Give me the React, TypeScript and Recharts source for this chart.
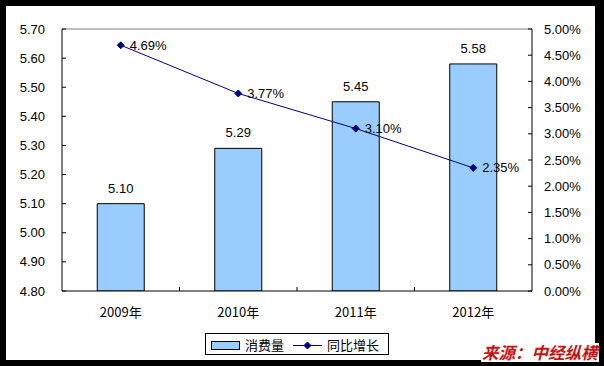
import React from 'react';
import {
  ComposedChart,
  Bar,
  Line,
  XAxis,
  YAxis,
  LabelList,
  ReferenceLine,
} from 'recharts';

// 消费量 (left axis) and 同比增长 (%) per year
const years = ['2009年', '2010年', '2011年', '2012年'];
const consumption = [5.1, 5.29, 5.45, 5.58];
const growth = [4.69, 3.77, 3.1, 2.35];

const leftTicks = [4.8, 4.9, 5.0, 5.1, 5.2, 5.3, 5.4, 5.5, 5.6, 5.7];
const rightTicks = [0, 0.5, 1, 1.5, 2, 2.5, 3, 3.5, 4, 4.5, 5];

const data = years.map((year, i) => ({
  year,
  consumption: consumption[i],
  growth: growth[i],
}));

const NUM_FONT = '"Liberation Sans", Arial, sans-serif';
const CJK_FONT = '"Noto Sans CJK SC", "Noto Sans", sans-serif';
const NAVY = '#000080';
const BAR_FILL = '#99CCFF';

const LeftTick = ({ x, y, payload }: any) => (
  <g>
    <line x1={x} x2={x + 4} y1={y} y2={y} stroke="#000" />
    <text x={x - 17} y={y} dy={4.5} textAnchor="end" fontSize={13} fontFamily={NUM_FONT} fill="#000">
      {Number(payload.value).toFixed(2)}
    </text>
  </g>
);

const RightTick = ({ x, y, payload }: any) => (
  <g>
    <line x1={x - 4} x2={x} y1={y} y2={y} stroke="#000" />
    <text x={x + 12} y={y} dy={4.5} textAnchor="start" fontSize={13} fontFamily={NUM_FONT} fill="#000">
      {Number(payload.value).toFixed(2) + '%'}
    </text>
  </g>
);

// category ticks sit between the bars in the original, so draw them at band edges
const YearTick = ({ x, y, payload, index, width, visibleTicksCount }: any) => {
  const half = payload.offset ?? width / visibleTicksCount / 2;
  return (
    <g>
      {index < years.length - 1 && (
        <line x1={x + half} x2={x + half} y1={y} y2={y - 4} stroke="#000" />
      )}
      <text x={x} y={y + 26} textAnchor="middle" fontSize={13} fontFamily={CJK_FONT} fill="#000">
        {payload.value}
      </text>
    </g>
  );
};

const Diamond = ({ cx, cy }: any) => {
  if (cx == null || cy == null) return null;
  const r = 3.5;
  return (
    <polygon
      points={`${cx},${cy - r} ${cx + r},${cy} ${cx},${cy + r} ${cx - r},${cy}`}
      fill={NAVY}
      stroke={NAVY}
    />
  );
};

const Legend = () => (
  <div
    style={{
      position: 'absolute',
      left: 205,
      top: 333,
      width: 182,
      height: 20,
      border: '1px solid #000',
      background: '#fff',
    }}
  >
    <svg width={182} height={20} style={{ display: 'block' }}>
      <rect x={5.5} y={7.5} width={28} height={8} fill={BAR_FILL} stroke="#000" />
      <text x={39} y={16} fontSize={13} fontFamily={CJK_FONT} fill="#000">消费量</text>
      <line x1={87} x2={116} y1={11.5} y2={11.5} stroke={NAVY} />
      <Diamond cx={101.5} cy={11.5} />
      <text x={121} y={16} fontSize={13} fontFamily={CJK_FONT} fill="#000">同比增长</text>
    </svg>
  </div>
);

export default function App() {
  return (
    <div style={{ position: 'absolute', left: 0, top: 0, width: 604, height: 366, background: '#000' }}>
      <div style={{ position: 'absolute', left: 6, top: 6, width: 589, height: 354, background: '#fff' }} />
      <div style={{ position: 'absolute', left: 0, top: 0 }}>
        <ComposedChart
          width={604}
          height={366}
          data={data}
          margin={{ top: 29, right: 0, bottom: 45, left: 0 }}
          barCategoryGap="30%"
        >
          <XAxis
            dataKey="year"
            height={30}
            axisLine={{ stroke: '#000' }}
            tickLine={false}
            tickSize={0}
            tickMargin={0}
            tick={<YearTick />}
            interval={0}
          />
          <YAxis
            yAxisId="left"
            width={62}
            domain={[4.8, 5.7]}
            ticks={leftTicks}
            allowDataOverflow
            axisLine={{ stroke: '#000' }}
            tickLine={false}
            tickSize={0}
            tickMargin={0}
            tick={<LeftTick />}
            interval={0}
          />
          <YAxis
            yAxisId="right"
            orientation="right"
            width={72}
            domain={[0, 5]}
            ticks={rightTicks}
            allowDataOverflow
            axisLine={{ stroke: '#000' }}
            tickLine={false}
            tickSize={0}
            tickMargin={0}
            tick={<RightTick />}
            interval={0}
          />
          <ReferenceLine yAxisId="left" y={5.7} stroke="#808080" />
          <Bar
            yAxisId="left"
            dataKey="consumption"
            fill={BAR_FILL}
            stroke="#000"
            strokeWidth={1}
            isAnimationActive={false}
          >
            <LabelList
              dataKey="consumption"
              position="top"
              offset={11}
              formatter={(v: any) => Number(v).toFixed(2)}
              style={{ fontSize: 13, fontFamily: NUM_FONT, fill: '#000' }}
            />
          </Bar>
          <Line
            yAxisId="right"
            dataKey="growth"
            stroke={NAVY}
            strokeWidth={1}
            dot={<Diamond />}
            activeDot={false}
            isAnimationActive={false}
          >
            <LabelList
              dataKey="growth"
              position="right"
              offset={9}
              formatter={(v: any) => Number(v).toFixed(2) + '%'}
              style={{ fontSize: 13, fontFamily: NUM_FONT, fill: '#000' }}
            />
          </Line>
        </ComposedChart>
      </div>
      <Legend />
      <div
        style={{
          position: 'absolute',
          left: 481,
          top: 343,
          height: 19,
          lineHeight: '19px',
          padding: '0 1px',
          background: '#fff',
          color: '#CC1111',
          fontFamily: CJK_FONT,
          fontSize: 16.5,
          fontWeight: 'bold',
          fontStyle: 'italic',
          whiteSpace: 'nowrap',
        }}
      >
        来源：中经纵横
      </div>
    </div>
  );
}
